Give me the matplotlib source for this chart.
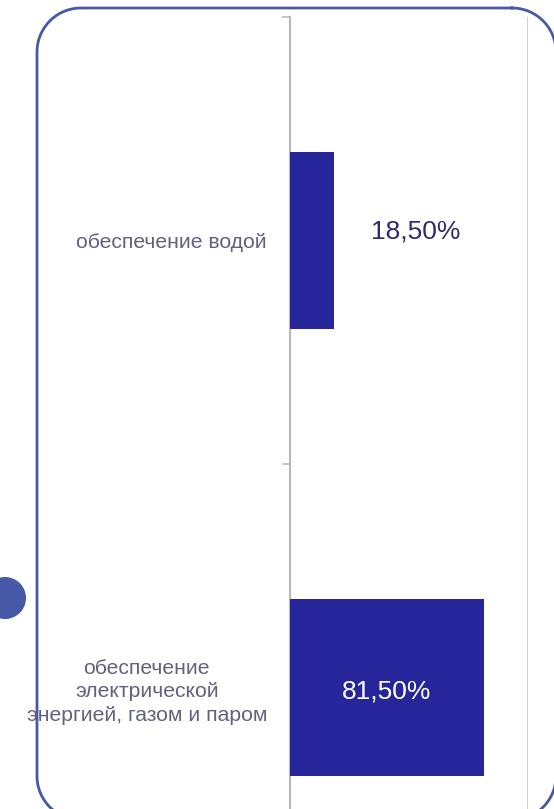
import matplotlib
matplotlib.use('Agg')
import matplotlib.pyplot as plt
import numpy as np
from matplotlib.patches import Circle

plt.rcParams['font.family'] = ['Liberation Sans', 'DejaVu Sans']

categories = ['обеспечение водой',
              'обеспечение\nэлектрической\nэнергией, газом и паром']
shares = [0.185, 0.815]
value_labels = ['18,50%', '81,50%']

bar_color = '#27259a'
frame_color = '#4658a6'
axis_gray = '#b8b8b8'

W, H = 554, 809
fig = plt.figure(figsize=(W / 100, H / 100), dpi=100)


def rounded_rect(x0, y0, x1, y1, r, n=30):
    # outline of a rounded rectangle, pixel coords with y going down
    xs, ys = [], []
    corners = [(x1 - r, y0 + r, -90, 0), (x1 - r, y1 - r, 0, 90),
               (x0 + r, y1 - r, 90, 180), (x0 + r, y0 + r, 180, 270)]
    for cx, cy, a0, a1 in corners:
        t = np.radians(np.linspace(a0, a1, n))
        xs.extend(cx + r * np.cos(t))
        ys.extend(cy + r * np.sin(t))
    xs.append(xs[0])
    ys.append(ys[0])
    return xs, ys


# background layer in pixel units: rounded frame and the dot on the left
bg = fig.add_axes([0, 0, 1, 1])
bg.set_xlim(0, W)
bg.set_ylim(H, 0)
bg.axis('off')
fx, fy = rounded_rect(37, 8, 556, 820, 44)
bg.plot(fx, fy, color=frame_color, linewidth=2, solid_joinstyle='round')
bg.add_patch(Circle((5, 598), 21, facecolor=frame_color, edgecolor='none'))

ax = fig.add_axes([290 / W, 1 - 911 / H, 238 / W, 894 / H])
ax.patch.set_alpha(0)
y = list(range(len(categories)))
ax.barh(y, shares, height=0.395, color=bar_color, zorder=3)

ax.set_xlim(0, 1.0)
ax.set_ylim(1.5, -0.5)
ax.set_xticks([])
ax.set_yticks(y)
ax.set_yticklabels(categories, fontsize=15.2, color='#62627e',
                   multialignment='center', linespacing=1.3)
ax.tick_params(axis='y', which='major', length=0, pad=16.5)
ax.set_yticks([-0.5, 0.5], minor=True)
ax.tick_params(axis='y', which='minor', length=6, color=axis_gray, width=1.2)

for s in ['top', 'right', 'bottom']:
    ax.spines[s].set_visible(False)
ax.spines['left'].set_color(axis_gray)
ax.spines['left'].set_linewidth(1.5)
ax.axvline(1.0, color='#cccccc', linewidth=2, zorder=1)

# value labels
ax.text(0.53, -0.02, value_labels[0], ha='center', va='center',
        fontsize=19, color='#2b2b70')
ax.text(shares[1] / 2, 1.01, value_labels[1], ha='center', va='center',
        fontsize=19, color='white')

fig.savefig('out.png', dpi=100)
